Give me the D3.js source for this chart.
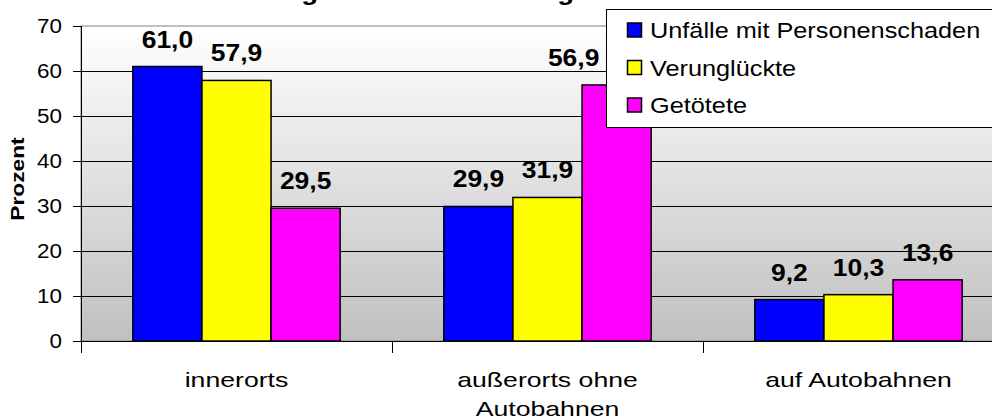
<!DOCTYPE html>
<html>
<head>
<meta charset="utf-8">
<script src="https://cdn.jsdelivr.net/npm/d3@7"></script>
<style>
  body { margin: 0; background: #fff; }
  svg { display: block; font-family: "Liberation Sans", Arial, sans-serif; }
</style>
</head>
<body>
<div id="chart"></div>
<script>
// data
const categories = ["innerorts", "außerorts ohne Autobahnen", "auf Autobahnen"];
const categoryLines = [["innerorts"], ["außerorts ohne", "Autobahnen"], ["auf Autobahnen"]];
const seriesNames = ["Unfälle mit Personenschaden", "Verunglückte", "Getötete"];
const seriesColors = ["#0000ff", "#ffff00", "#ff00ff"];
const unfaelle = [61.0, 29.9, 9.2];
const verunglueckte = [57.9, 31.9, 10.3];
const getoetete = [29.5, 56.9, 13.6];
const yTicks = [0, 10, 20, 30, 40, 50, 60, 70];
const title = "Verunglückte nach Ortslage";

const svgWidth = 992;
const svgHeight = 420;
const stretch = 1.15; // text in the source looks widened

const plot = { left: 81, top: 26, bottom: 341, right: 1014 };

const svg = d3.select("#chart")
  .append("svg")
  .attr("width", svgWidth)
  .attr("height", svgHeight);

const seriesValues = [unfaelle, verunglueckte, getoetete];
const data = categories.map((c, i) => ({
  cat: c,
  values: seriesNames.map((s, j) => ({
    series: s, color: seriesColors[j], value: seriesValues[j][i],
    // the 56,9 label was dragged left of the legend in the original
    shift: (i === 1 && j === 2) ? -43 : 0
  }))
}));

const y = d3.scaleLinear().domain([0, 70]).range([plot.bottom, plot.top]);
const x0 = d3.scaleBand().domain(categories).range([plot.left, plot.right]).padding(0);
const x1 = d3.scaleBand().domain(seriesNames).range([0, x0.bandwidth()])
  .paddingInner(0).paddingOuter(0.75);

// background gradient
const defs = svg.append("defs");
const grad = defs.append("linearGradient")
  .attr("id", "bg").attr("x1", 0).attr("y1", 0).attr("x2", 0).attr("y2", 1);
grad.append("stop").attr("offset", "0%").attr("stop-color", "#ffffff");
grad.append("stop").attr("offset", "100%").attr("stop-color", "#c0c0c0");

svg.append("rect")
  .attr("x", plot.left).attr("y", plot.top)
  .attr("width", plot.right - plot.left).attr("height", plot.bottom - plot.top)
  .attr("fill", "url(#bg)")
  .attr("stroke", "#808080");

function sText(g, x, yy, txt, size, weight, anchor, sx) {
  return g.append("text")
    .attr("transform", `translate(${x},${yy}) scale(${sx || stretch},1)`)
    .attr("font-size", size)
    .attr("font-weight", weight || "normal")
    .attr("text-anchor", anchor || "start")
    .attr("fill", "#000")
    .text(txt);
}

// title, cut off at the top like in the source
sText(svg, 407, 0, title, 24, "bold", "middle");

// gridlines
svg.append("g").selectAll("line")
  .data(yTicks.filter(t => t > 0 && t < 70))
  .join("line")
  .attr("x1", plot.left).attr("x2", plot.right)
  .attr("y1", d => Math.round(y(d)) + 0.5).attr("y2", d => Math.round(y(d)) + 0.5)
  .attr("stroke", "#000");

// y axis
const yAxis = svg.append("g");
yAxis.append("line")
  .attr("x1", plot.left + 0.5).attr("x2", plot.left + 0.5)
  .attr("y1", plot.top).attr("y2", plot.bottom)
  .attr("stroke", "#000");
yAxis.selectAll("line.tick")
  .data(yTicks)
  .join("line")
  .attr("class", "tick")
  .attr("x1", plot.left - 8).attr("x2", plot.left)
  .attr("y1", d => Math.round(y(d)) + 0.5).attr("y2", d => Math.round(y(d)) + 0.5)
  .attr("stroke", "#000");
yTicks.forEach(t => sText(yAxis, 62, y(t) + 7, t, 19.5, "normal", "end"));

// y title
svg.append("text")
  .attr("transform", `translate(24,179) rotate(-90) scale(1.3,1)`)
  .attr("font-size", 17.5)
  .attr("font-weight", "bold")
  .attr("text-anchor", "middle")
  .text("Prozent");

// bars
const groups = svg.append("g").selectAll("g")
  .data(data)
  .join("g")
  .attr("transform", d => `translate(${x0(d.cat)},0)`);

groups.selectAll("rect")
  .data(d => d.values)
  .join("rect")
  .attr("x", d => x1(d.series))
  .attr("y", d => y(d.value))
  .attr("width", x1.bandwidth())
  .attr("height", d => y(0) - y(d.value))
  .attr("fill", d => d.color)
  .attr("stroke", "#000")
  .attr("stroke-width", 1.5);

groups.each(function(d) {
  const g = d3.select(this);
  d.values.forEach(v => {
    sText(g, x1(v.series) + x1.bandwidth() / 2 + v.shift, y(v.value) - 19,
      v.value.toFixed(1).replace(".", ","), 23, "bold", "middle");
  });
});

// x axis
const xAxis = svg.append("g");
xAxis.append("line")
  .attr("x1", plot.left).attr("x2", plot.right)
  .attr("y1", plot.bottom + 0.5).attr("y2", plot.bottom + 0.5)
  .attr("stroke", "#000");
xAxis.selectAll("line.tick")
  .data(categories)
  .join("line")
  .attr("class", "tick")
  .attr("x1", d => Math.round(x0(d)) + 0.5).attr("x2", d => Math.round(x0(d)) + 0.5)
  .attr("y1", plot.bottom).attr("y2", plot.bottom + 12)
  .attr("stroke", "#000");
categories.forEach((c, i) => {
  categoryLines[i].forEach((line, k) => {
    sText(xAxis, x0(c) + x0.bandwidth() / 2, 387 + k * 29, line, 20.5, "normal", "middle", 1.3);
  });
});

// legend
const legend = svg.append("g");
legend.append("rect")
  .attr("x", 606.5).attr("y", 9.5)
  .attr("width", 400).attr("height", 118)
  .attr("fill", "#fff")
  .attr("stroke", "#000");
seriesNames.forEach((s, i) => {
  const cy = 30 + i * 37.5;
  legend.append("rect")
    .attr("x", 627.5).attr("y", cy - 7)
    .attr("width", 14).attr("height", 14)
    .attr("fill", seriesColors[i])
    .attr("stroke", "#000")
    .attr("stroke-width", 1.5);
  sText(legend, 650, cy + 8, s, 22, "normal", "start");
});
</script>
</body>
</html>
